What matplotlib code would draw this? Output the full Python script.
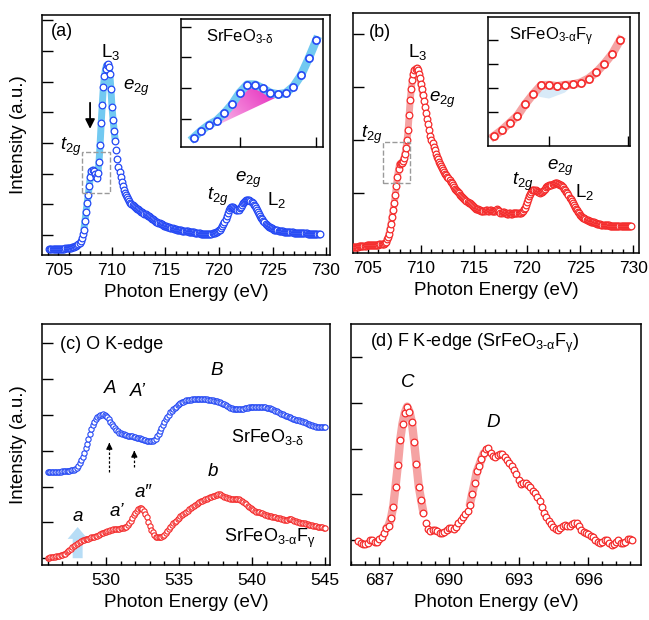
import numpy as np
import matplotlib
matplotlib.use("Agg")
import matplotlib.pyplot as plt
from matplotlib.ticker import MultipleLocator
from matplotlib.colors import LinearSegmentedColormap
from matplotlib.patches import Polygon, Rectangle, FancyArrow

plt.rcParams['font.family'] = ['Liberation Sans', 'DejaVu Sans']
plt.rcParams['mathtext.fontset'] = 'custom'
plt.rcParams['mathtext.rm'] = 'Liberation Sans'
plt.rcParams['mathtext.it'] = 'Liberation Sans:italic'
plt.rcParams['mathtext.bf'] = 'Liberation Sans:bold'

BLUE = '#2448f4'
RED = '#f42a2a'
LIGHT_BLUE = '#72c9f1'
LIGHT_RED = '#f5a3a3'

# Fe L-edge, SrFeO3-d (a)
fe_a_start, fe_a_step = 704.15, 0.101
fe_a_int = [-0.47, -0.47, -0.47, -0.47, -0.46, -0.46, -0.46, -0.46, -0.45, -0.45,
            -0.45, -0.45, -0.44, -0.44, -0.44, -0.43, -0.43, -0.42, -0.42, -0.41,
            -0.41, -0.40, -0.39, -0.38, -0.37, -0.35, -0.33, -0.30, -0.25, -0.18,
            -0.08, 0.04, 0.18, 0.45, 0.76, 1.03, 1.30, 1.60, 1.90, 2.08,
            2.12, 2.08, 1.99, 1.88, 1.85, 2.02, 2.39, 2.95, 3.64, 4.25,
            4.81, 5.17, 5.41, 5.53, 5.56, 5.46, 5.24, 4.75, 4.18, 3.76,
            3.40, 3.07, 2.77, 2.49, 2.23, 2.05, 1.90, 1.74, 1.60, 1.48,
            1.38, 1.30, 1.23, 1.17, 1.11, 1.06, 1.02, 0.98, 0.94, 0.91,
            0.89, 0.86, 0.84, 0.81, 0.79, 0.76, 0.74, 0.71, 0.69, 0.67,
            0.65, 0.63, 0.61, 0.58, 0.55, 0.53, 0.51, 0.49, 0.47, 0.44,
            0.42, 0.40, 0.38, 0.36, 0.35, 0.33, 0.31, 0.29, 0.28, 0.27,
            0.26, 0.25, 0.24, 0.23, 0.22, 0.21, 0.21, 0.19, 0.18, 0.17,
            0.16, 0.16, 0.15, 0.14, 0.14, 0.13, 0.13, 0.12, 0.12, 0.11,
            0.11, 0.10, 0.10, 0.09, 0.09, 0.08, 0.08, 0.07, 0.07, 0.06,
            0.05, 0.05, 0.05, 0.04, 0.04, 0.04, 0.04, 0.04, 0.04, 0.04,
            0.05, 0.06, 0.07, 0.08, 0.09, 0.10, 0.12, 0.15, 0.18, 0.23,
            0.29, 0.36, 0.43, 0.52, 0.62, 0.72, 0.81, 0.88, 0.92, 0.92,
            0.90, 0.87, 0.84, 0.82, 0.81, 0.83, 0.87, 0.93, 0.99, 1.03,
            1.07, 1.10, 1.13, 1.14, 1.14, 1.14, 1.12, 1.08, 1.04, 0.99,
            0.94, 0.88, 0.81, 0.74, 0.68, 0.62, 0.56, 0.51, 0.46, 0.41,
            0.37, 0.33, 0.30, 0.27, 0.25, 0.23, 0.22, 0.20, 0.18, 0.17,
            0.16, 0.15, 0.14, 0.13, 0.13, 0.12, 0.12, 0.11, 0.11, 0.10,
            0.10, 0.10, 0.10, 0.09, 0.09, 0.09, 0.08, 0.08, 0.08, 0.08,
            0.08, 0.07, 0.07, 0.07, 0.07, 0.06, 0.06, 0.06, 0.06, 0.05,
            0.05, 0.05, 0.05, 0.04, 0.04, 0.04, 0.03, 0.03, 0.03, 0.03,
            0.02]

# Fe L-edge, SrFeO3-aFy (b)
fe_b_start, fe_b_step = 703.6, 0.1
fe_b_int = [-1.03, -1.03, -1.03, -1.02, -1.02, -1.02, -1.01, -1.01, -1.01, -1.01,
            -1.01, -1.00, -1.00, -0.99, -0.99, -0.99, -0.99, -0.98, -0.98, -0.98,
            -0.98, -0.98, -0.98, -0.98, -0.98, -0.97, -0.97, -0.97, -0.97, -0.96,
            -0.94, -0.92, -0.88, -0.83, -0.77, -0.68, -0.58, -0.46, -0.33, -0.19,
            -0.04, 0.13, 0.30, 0.44, 0.54, 0.56, 0.57, 0.60, 0.65, 0.73,
            0.84, 0.99, 1.18, 1.46, 1.75, 1.96, 2.13, 2.24, 2.31, 2.34,
            2.35, 2.31, 2.24, 2.16, 2.06, 1.95, 1.84, 1.73, 1.62, 1.51,
            1.40, 1.29, 1.18, 1.08, 0.99, 0.93, 0.87, 0.80, 0.74, 0.68,
            0.63, 0.58, 0.54, 0.50, 0.46, 0.43, 0.40, 0.36, 0.33, 0.30,
            0.27, 0.24, 0.21, 0.18, 0.14, 0.11, 0.08, 0.05, 0.03, 0.01,
            -0.01, -0.04, -0.06, -0.08, -0.10, -0.12, -0.14, -0.16, -0.17, -0.19,
            -0.20, -0.22, -0.23, -0.25, -0.26, -0.28, -0.30, -0.31, -0.31, -0.32,
            -0.33, -0.34, -0.34, -0.34, -0.34, -0.33, -0.33, -0.34, -0.34, -0.33,
            -0.33, -0.34, -0.35, -0.35, -0.34, -0.32, -0.31, -0.33, -0.35, -0.38,
            -0.39, -0.37, -0.36, -0.38, -0.39, -0.40, -0.40, -0.39, -0.39, -0.40,
            -0.40, -0.39, -0.39, -0.39, -0.39, -0.39, -0.39, -0.38, -0.38, -0.36,
            -0.34, -0.31, -0.28, -0.23, -0.17, -0.11, -0.06, -0.02, 0.02, 0.05,
            0.06, 0.06, 0.05, 0.03, 0.02, 0.01, 0.00, 0.01, 0.02, 0.04,
            0.06, 0.08, 0.10, 0.12, 0.13, 0.14, 0.14, 0.15, 0.16, 0.17,
            0.18, 0.18, 0.18, 0.17, 0.16, 0.15, 0.14, 0.12, 0.10, 0.08,
            0.05, 0.02, -0.01, -0.05, -0.09, -0.12, -0.16, -0.20, -0.23, -0.27,
            -0.30, -0.33, -0.36, -0.39, -0.41, -0.43, -0.45, -0.47, -0.48, -0.50,
            -0.51, -0.52, -0.53, -0.54, -0.55, -0.55, -0.56, -0.56, -0.57, -0.57,
            -0.58, -0.58, -0.59, -0.59, -0.60, -0.60, -0.61, -0.61, -0.61, -0.61,
            -0.61, -0.61, -0.62, -0.62, -0.62, -0.62, -0.62, -0.62, -0.62, -0.62,
            -0.62, -0.62, -0.62, -0.62, -0.62, -0.62, -0.62, -0.62, -0.62, -0.62,
            -0.62, -0.62, -0.62]

# insets: t2g pre-peak region
ins_a_start, ins_b_start, ins_step = 707.4, 707.3, 0.1
ins_a_int = [-0.63, -0.40, -0.21, -0.07, 0.17, 0.46, 0.84, 1.11, 1.11, 0.99,
             0.84, 0.79, 0.83, 1.04, 1.41, 1.96, 2.56]
ins_b_int = [-0.03, 0.22, 0.52, 0.83, 1.32, 1.74, 2.11, 2.12, 2.07, 2.12,
             2.14, 2.22, 2.39, 2.65, 3.01, 3.42, 4.00]

# O K-edge (c)
ok_start, ok_step = 526.0, 0.1
ok_sfo = [2.42, 2.42, 2.42, 2.42, 2.42, 2.42, 2.42, 2.42, 2.42, 2.42,
          2.43, 2.43, 2.43, 2.43, 2.44, 2.44, 2.45, 2.46, 2.47, 2.49,
          2.52, 2.58, 2.65, 2.74, 2.84, 2.95, 3.07, 3.19, 3.32, 3.46,
          3.60, 3.71, 3.81, 3.88, 3.94, 3.97, 4.00, 4.01, 4.02, 4.00,
          3.98, 3.93, 3.88, 3.81, 3.75, 3.69, 3.64, 3.59, 3.54, 3.51,
          3.49, 3.47, 3.46, 3.45, 3.44, 3.42, 3.41, 3.40, 3.40, 3.39,
          3.38, 3.37, 3.37, 3.35, 3.34, 3.32, 3.31, 3.29, 3.27, 3.26,
          3.26, 3.26, 3.27, 3.30, 3.34, 3.40, 3.47, 3.55, 3.63, 3.71,
          3.80, 3.88, 3.95, 4.01, 4.07, 4.12, 4.16, 4.20, 4.23, 4.27,
          4.30, 4.33, 4.35, 4.37, 4.39, 4.41, 4.42, 4.43, 4.43, 4.44,
          4.45, 4.45, 4.45, 4.45, 4.45, 4.45, 4.44, 4.44, 4.44, 4.44,
          4.43, 4.43, 4.42, 4.41, 4.40, 4.39, 4.38, 4.37, 4.35, 4.34,
          4.32, 4.30, 4.27, 4.25, 4.22, 4.20, 4.19, 4.18, 4.17, 4.16,
          4.16, 4.16, 4.17, 4.17, 4.18, 4.19, 4.20, 4.20, 4.21, 4.22,
          4.22, 4.23, 4.23, 4.23, 4.23, 4.23, 4.23, 4.23, 4.22, 4.21,
          4.20, 4.20, 4.19, 4.18, 4.16, 4.14, 4.12, 4.10, 4.08, 4.06,
          4.04, 4.02, 4.00, 3.98, 3.96, 3.95, 3.93, 3.91, 3.89, 3.88,
          3.87, 3.86, 3.85, 3.84, 3.82, 3.81, 3.79, 3.77, 3.75, 3.74,
          3.72, 3.71, 3.69, 3.68, 3.67, 3.67, 3.66, 3.66, 3.65, 3.65,
          3.65]
ok_sfof = [0.00, 0.01, 0.02, 0.02, 0.03, 0.04, 0.05, 0.06, 0.07, 0.08,
           0.09, 0.11, 0.13, 0.16, 0.20, 0.23, 0.26, 0.30, 0.33, 0.37,
           0.40, 0.43, 0.46, 0.48, 0.50, 0.52, 0.53, 0.54, 0.55, 0.57,
           0.58, 0.59, 0.60, 0.62, 0.63, 0.65, 0.67, 0.69, 0.71, 0.73,
           0.74, 0.76, 0.77, 0.79, 0.80, 0.81, 0.81, 0.81, 0.81, 0.82,
           0.83, 0.84, 0.85, 0.86, 0.88, 0.92, 0.98, 1.05, 1.12, 1.20,
           1.27, 1.33, 1.37, 1.39, 1.39, 1.37, 1.33, 1.24, 1.14, 1.02,
           0.90, 0.80, 0.72, 0.65, 0.60, 0.58, 0.58, 0.58, 0.60, 0.63,
           0.66, 0.71, 0.76, 0.82, 0.88, 0.93, 0.98, 1.02, 1.05, 1.09,
           1.13, 1.17, 1.21, 1.24, 1.27, 1.30, 1.33, 1.37, 1.40, 1.44,
           1.47, 1.49, 1.51, 1.54, 1.56, 1.59, 1.61, 1.63, 1.64, 1.66,
           1.67, 1.70, 1.72, 1.74, 1.75, 1.76, 1.77, 1.78, 1.78, 1.77,
           1.75, 1.72, 1.70, 1.68, 1.67, 1.66, 1.66, 1.66, 1.66, 1.66,
           1.65, 1.64, 1.63, 1.61, 1.58, 1.54, 1.50, 1.46, 1.43, 1.40,
           1.37, 1.34, 1.32, 1.30, 1.29, 1.28, 1.27, 1.25, 1.24, 1.22,
           1.21, 1.19, 1.18, 1.17, 1.16, 1.15, 1.14, 1.13, 1.13, 1.11,
           1.10, 1.09, 1.08, 1.08, 1.08, 1.09, 1.10, 1.09, 1.07, 1.05,
           1.03, 1.01, 1.00, 0.99, 0.99, 0.98, 0.97, 0.96, 0.95, 0.94,
           0.93, 0.92, 0.91, 0.90, 0.89, 0.88, 0.87, 0.86, 0.86, 0.85,
           0.84]

# F K-edge (d)
fk_start, fk_step = 686.1, 0.1
fk_int = [-0.03, -0.06, -0.09, -0.10, -0.06, -0.01, -0.01, -0.04, -0.04, 0.01,
          0.06, 0.16, 0.25, 0.31, 0.47, 0.73, 1.17, 1.64, 2.19, 2.55,
          2.79, 2.92, 2.81, 2.59, 2.15, 1.66, 1.17, 0.88, 0.60, 0.38,
          0.23, 0.20, 0.21, 0.22, 0.19, 0.16, 0.15, 0.18, 0.22, 0.25,
          0.25, 0.23, 0.28, 0.36, 0.44, 0.51, 0.56, 0.64, 0.77, 1.01,
          1.24, 1.50, 1.63, 1.77, 1.90, 1.99, 2.01, 1.91, 1.84, 1.81,
          1.85, 1.88, 1.88, 1.82, 1.75, 1.68, 1.62, 1.53, 1.45, 1.31,
          1.23, 1.24, 1.25, 1.21, 1.15, 1.08, 1.02, 0.95, 0.86, 0.73,
          0.60, 0.51, 0.42, 0.35, 0.29, 0.23, 0.22, 0.26, 0.31, 0.32,
          0.31, 0.31, 0.34, 0.36, 0.38, 0.31, 0.22, 0.18, 0.16, 0.13,
          0.09, 0.06, 0.00, -0.04, -0.07, -0.05, -0.01, -0.01, -0.07, -0.11,
          -0.09, -0.05, -0.01, -0.06, -0.07, -0.04, 0.01, 0.03, 0.00]


def grid(start, step, vals):
    return start + step * np.arange(len(vals))


def style(ax, xlim, ylim, xmaj, xmin):
    ax.set_xlim(*xlim)
    ax.set_ylim(*ylim)
    ax.xaxis.set_major_locator(MultipleLocator(xmaj))
    ax.xaxis.set_minor_locator(MultipleLocator(xmin))
    ax.yaxis.set_major_locator(MultipleLocator(1))
    ax.tick_params(axis='x', which='major', direction='in', length=6, width=1,
                   labelsize=12.5, pad=6)
    ax.tick_params(axis='x', which='minor', direction='in', length=3, width=1)
    ax.tick_params(axis='y', which='major', direction='in', length=8, width=1,
                   labelleft=False)
    for s in ax.spines.values():
        s.set_linewidth(1.1)
    ax.set_xlabel('Photon Energy (eV)', fontsize=13.5, labelpad=4)


def style_inset(ax, xlim, ylim):
    ax.set_xlim(*xlim)
    ax.set_ylim(*ylim)
    ax.set_xticks([708, 709])
    ax.yaxis.set_major_locator(MultipleLocator(1))
    ax.tick_params(direction='in', length=7, width=1, labelleft=False,
                   labelbottom=False)
    for s in ax.spines.values():
        s.set_linewidth(1.1)


def markers(ax, x, y, color, ms, mew=0.9):
    ax.plot(x, y, 'o', mfc='white', mec=color, ms=ms, mew=mew, zorder=3)


fig = plt.figure(figsize=(6.49, 6.2), dpi=100)
ax_a = fig.add_axes([0.0652, 0.5887, 0.4433, 0.3871])
ax_b = fig.add_axes([0.5435, 0.5924, 0.4411, 0.3866])
ax_c = fig.add_axes([0.0652, 0.0887, 0.4433, 0.3887])
ax_d = fig.add_axes([0.5404, 0.0887, 0.4473, 0.3887])

TXT = 13.5

# ---- (a)
xa = grid(fe_a_start, fe_a_step, fe_a_int)
ya = np.array(fe_a_int)
band = (xa > 707.3) & (xa < 710.4)
ax_a.plot(xa[band], ya[band], color=LIGHT_BLUE, lw=5, solid_capstyle='round', zorder=2)
markers(ax_a, xa, ya, BLUE, 4.8)
style(ax_a, (703.5, 730.37), (-0.65, 7.17), 5, 1)
ax_a.add_patch(Rectangle((707.18, 1.36), 2.65, 1.35, fill=False, ls='--',
                         ec='#9a9a9a', lw=1.0, zorder=4))
ax_a.annotate('', xy=(707.96, 3.37), xytext=(707.96, 4.4),
              arrowprops=dict(arrowstyle='-|>', color='black', lw=1.3,
                              mutation_scale=14))
ax_a.text(0.067, 0.93, '(a)', transform=ax_a.transAxes, fontsize=13,
          ha='center', va='center')
ax_a.text(0.239, 0.846, 'L$_3$', transform=ax_a.transAxes, fontsize=TXT, ha='center', va='center')
ax_a.text(0.326, 0.696, r'$e_{2g}$', transform=ax_a.transAxes, fontsize=TXT, ha='center', va='center')
ax_a.text(0.10, 0.45, r'$t_{2g}$', transform=ax_a.transAxes, fontsize=TXT, ha='center', va='center')
ax_a.text(0.61, 0.242, r'$t_{2g}$', transform=ax_a.transAxes, fontsize=TXT, ha='center', va='center')
ax_a.text(0.718, 0.3125, r'$e_{2g}$', transform=ax_a.transAxes, fontsize=TXT, ha='center', va='center')
ax_a.text(0.816, 0.229, 'L$_2$', transform=ax_a.transAxes, fontsize=TXT, ha='center', va='center')

# ---- (b)
xb = grid(fe_b_start, fe_b_step, fe_b_int)
yb = np.array(fe_b_int)
band = (xb > 706.9) & (xb < 710.3)
ax_b.plot(xb[band], yb[band], color=LIGHT_RED, lw=5, solid_capstyle='round', zorder=2)
markers(ax_b, xb, yb, RED, 4.8)
style(ax_b, (703.59, 730.54), (-1.13, 3.39), 5, 1)
ax_b.add_patch(Rectangle((706.41, 0.18), 2.57, 0.78, fill=False, ls='--',
                         ec='#9a9a9a', lw=1.0, zorder=4))
ax_b.text(0.095, 0.92, '(b)', transform=ax_b.transAxes, fontsize=13, ha='center', va='center')
ax_b.text(0.228, 0.837, 'L$_3$', transform=ax_b.transAxes, fontsize=TXT, ha='center', va='center')
ax_b.text(0.312, 0.637, r'$e_{2g}$', transform=ax_b.transAxes, fontsize=TXT, ha='center', va='center')
ax_b.text(0.067, 0.491, r'$t_{2g}$', transform=ax_b.transAxes, fontsize=TXT, ha='center', va='center')
ax_b.text(0.595, 0.295, r'$t_{2g}$', transform=ax_b.transAxes, fontsize=TXT, ha='center', va='center')
ax_b.text(0.727, 0.354, r'$e_{2g}$', transform=ax_b.transAxes, fontsize=TXT, ha='center', va='center')
ax_b.text(0.811, 0.254, 'L$_2$', transform=ax_b.transAxes, fontsize=TXT, ha='center', va='center')

# ---- inset (a)
ia = fig.add_axes([0.2789, 0.7629, 0.2188, 0.2065])
xia = grid(ins_a_start, ins_step, ins_a_int)
yia = np.array(ins_a_int)
# gradient-filled hump
base = [(707.523, -0.44), (708.515, 0.73)]
sel = (xia > base[0][0]) & (xia < base[1][0])
verts = [base[0]] + list(zip(xia[sel], yia[sel])) + [base[1]]
poly = Polygon(verts, closed=True, fc='none', ec='none')
ia.add_patch(poly)
gx, gy = np.meshgrid(np.linspace(0, 1, 120), np.linspace(0, 1, 120))
pink = LinearSegmentedColormap.from_list('pink', ['#fdeaf7', '#f27ad6', '#e21cb8'])
im = ia.imshow(0.65 * gx + 0.35 * gy, extent=[707.5, 708.55, -0.5, 1.15],
               origin='lower', cmap=pink, aspect='auto', zorder=1)
im.set_clip_path(poly)
ia.plot(xia, yia, color=LIGHT_BLUE, lw=6, solid_capstyle='projecting', zorder=2)
markers(ia, xia, yia, BLUE, 5.2, 1.2)
style_inset(ia, (707.237, 709.087), (-0.93, 3.25))
ia.text(0.176, 0.86, r'SrFeO$_{\mathrm{3\text{-}δ}}$', transform=ia.transAxes,
        fontsize=12, ha='left', va='center')

# ---- inset (b)
ib = fig.add_axes([0.7519, 0.7645, 0.2188, 0.2081])
xib = grid(ins_b_start, ins_step, ins_b_int)
yib = np.array(ins_b_int)
ib.add_patch(Polygon([(707.82, 1.80), (707.9, 2.05), (708.3, 2.10), (708.2, 1.80),
                      (708.0, 1.55), (707.88, 1.62)], closed=True,
                     fc='#d8eaf8', ec='none', zorder=1))
ib.plot(xib, yib, color=LIGHT_RED, lw=6, solid_capstyle='projecting', zorder=2)
markers(ib, xib, yib, RED, 5.2, 1.2)
style_inset(ib, (707.227, 709.025), (-0.44, 4.97))
ib.text(0.148, 0.845, r'SrFeO$_{\mathrm{3\text{-}α}}$F$_{\mathrm{γ}}$', transform=ib.transAxes,
        fontsize=12, ha='left', va='center')

# ---- (c)
xc = grid(ok_start, ok_step, ok_sfo)
ax_c.add_patch(FancyArrow(528.06, 0.0, 0, 0.87, width=0.68, head_width=1.37,
                          head_length=0.33, length_includes_head=True,
                          color='#b7ddf6', lw=0, zorder=1))
markers(ax_c, xc, ok_sfo, BLUE, 3.8, 0.8)
markers(ax_c, xc, ok_sfof, RED, 3.8, 0.8)
style(ax_c, (525.64, 545.34), (-0.19, 6.54), 5, 1)
for ax0, y0, y1 in [(530.23, 2.41, 3.30), (531.94, 2.55, 3.08)]:
    ax_c.plot([ax0, ax0], [y0, y1 - 0.15], color='black', lw=0.9, ls=(0, (2, 1.5)))
    ax_c.annotate('', xy=(ax0, y1), xytext=(ax0, y1 - 0.2),
                  arrowprops=dict(arrowstyle='-|>', color='black', lw=0.9,
                                  mutation_scale=9))
ax_c.text(0.062, 0.913, '(c) O K-edge', transform=ax_c.transAxes, fontsize=13,
          ha='left', va='center')
for s, fx, fy in [('A', 0.235, 0.734), ('A\u2019', 0.333, 0.718), ('B', 0.607, 0.809),
                  ('b', 0.593, 0.386), ('a\u2033', 0.35, 0.299), ('a\u2019', 0.26, 0.22),
                  ('a', 0.124, 0.203)]:
    ax_c.text(fx, fy, s, transform=ax_c.transAxes, fontsize=TXT, style='italic',
              ha='center', va='center')
ax_c.text(0.783, 0.531, r'SrFeO$_{\mathrm{3\text{-}δ}}$', transform=ax_c.transAxes,
          fontsize=13, ha='center', va='center')
ax_c.text(0.79, 0.112, r'SrFeO$_{\mathrm{3\text{-}α}}$F$_{\mathrm{γ}}$', transform=ax_c.transAxes,
          fontsize=13, ha='center', va='center')

# ---- (d)
xd = grid(fk_start, fk_step, fk_int)
yd = np.array(fk_int)
for lo, hi in [(687.25, 688.95), (690.85, 691.55)]:
    m = (xd > lo) & (xd < hi)
    ax_d.plot(xd[m], yd[m], color=LIGHT_RED, lw=6, solid_capstyle='round', zorder=2)
markers(ax_d, xd, yd, RED, 4.8)
style(ax_d, (685.77, 698.27), (-0.55, 4.73), 3, 0.6)
ax_d.text(0.066, 0.921, r'(d) F K-edge (SrFeO$_{\mathrm{3\text{-}α}}$F$_{\mathrm{γ}}$)',
          transform=ax_d.transAxes, fontsize=13, ha='left', va='center')
ax_d.text(0.197, 0.759, 'C', transform=ax_d.transAxes, fontsize=TXT, style='italic',
          ha='center', va='center')
ax_d.text(0.49, 0.593, 'D', transform=ax_d.transAxes, fontsize=TXT, style='italic',
          ha='center', va='center')

fig.text(18.5 / 649, 1 - 135 / 620, 'Intensity (a.u.)', rotation=90, fontsize=13.5,
         ha='center', va='center')
fig.text(18.5 / 649, 1 - 445 / 620, 'Intensity (a.u.)', rotation=90, fontsize=13.5,
         ha='center', va='center')

fig.savefig('out.png', dpi=100)
